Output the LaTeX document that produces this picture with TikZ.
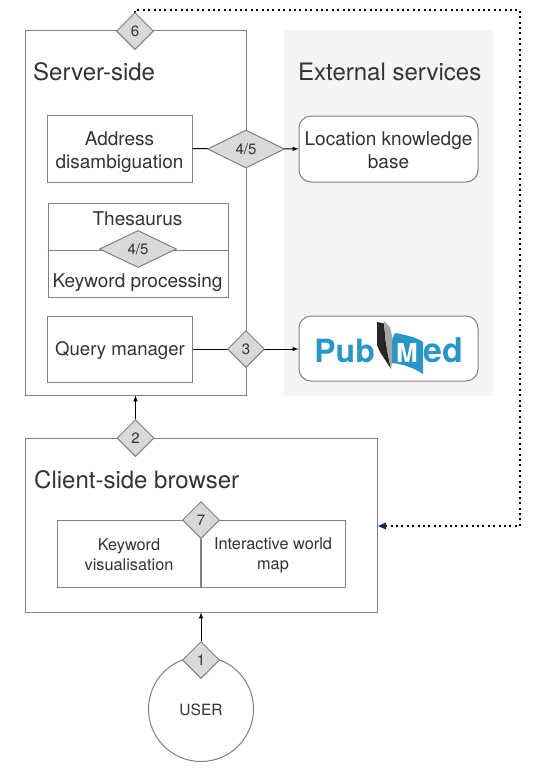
\documentclass[tikz,border=0pt]{standalone}
\usepackage{fontspec}
\setmainfont{TeX Gyre Heros}
\usetikzlibrary{shapes.geometric}
\definecolor{edgegrey}{HTML}{808080}
\definecolor{diamondgrey}{HTML}{D9D9D9}
\definecolor{panelgrey}{HTML}{F3F4F6}
\definecolor{textgrey}{HTML}{333333}
\definecolor{pubblue}{HTML}{2A96C5}
\definecolor{arrownavy}{HTML}{0B2A55}
\tikzset{
  box/.style={draw=edgegrey,line width=1pt,fill=white,text=textgrey,align=center,inner sep=0pt},
  roundbox/.style={box,rounded corners=12pt},
  step diamond/.style={diamond,draw=edgegrey,line width=1pt,fill=diamondgrey,text=textgrey,inner sep=0pt,font=\fontsize{15}{18}\selectfont},
  title/.style={anchor=west,text=textgrey,inner sep=0pt,font=\fontsize{24}{28}\selectfont},
  label/.style={text=textgrey,align=center,inner sep=0pt,font=\fontsize{19}{23}\selectfont},
  small label/.style={text=textgrey,align=center,inner sep=0pt,font=\fontsize{16.3}{20}\selectfont},
  flow/.style={draw=black,line width=1pt,-latex},
}
\begin{document}
\begin{tikzpicture}[x=1pt,y=-1pt]
  \useasboundingbox (0,0) rectangle (537,774);

  \fill[panelgrey] (284,30) rectangle (493,396);

  % outer boxes
  \node[box,minimum width=221pt,minimum height=365pt] (server) at (135.5,212.5) {};
  \node[box,minimum width=352pt,minimum height=174pt] (client) at (201.5,525) {};
  \node[box,circle,minimum size=105pt] (user) at (201,709) {};

  \node[title] (servertitle) at (33,72) {Server-side};
  \node[title] (externaltitle) at (298,72) {External services};
  \node[title] (clienttitle) at (34,480) {Client-side browser};

  % server side
  \node[box,minimum width=145pt,minimum height=67pt] (address) at (119.5,148.5) {};
  \node[label] (addresstext) at (119.5,152) {Address\\disambiguation};
  \node[box,minimum width=180pt,minimum height=94pt] (thesaurus) at (138,250) {};
  \node[box,minimum width=145pt,minimum height=66pt] (query) at (119.5,349) {};
  \node[label,font=\fontsize{18.6}{23}\selectfont] (querytext) at (120,350.5) {Query manager};

  % external services
  \node[roundbox,minimum width=179pt,minimum height=66pt] (location) at (388.5,149) {};
  \node[label] (locationtext) at (388.5,150.5) {Location knowledge\\base};
  \node[roundbox,minimum width=179pt,minimum height=65pt] (pubmed) at (388.5,348.5) {};

  % browser
  \node[box,minimum width=288pt,minimum height=67pt] (views) at (201.5,553.5) {};
  \node[small label] (keyword) at (129,555) {Keyword\\visualisation};
  \node[small label] (worldmap) at (273,555) {Interactive world\\map};

  % connectors
  \path[flow] (address) -- (location);
  \path[flow] (query.east) -- (pubmed.west |- query.east);
  \draw[edgegrey,line width=1pt] (thesaurus.west) -- (thesaurus.east);

  \coordinate (topcorner) at (520,10);
  \coordinate (sidecorner) at (520,526);
  \draw[line width=1.6pt,dash pattern=on 2pt off 3.4pt] (135,13) |- (topcorner) -- (sidecorner) -- (client.east |- sidecorner);
  \fill[arrownavy] (378,526) -- (386,522.5) -- (386,529.5) -- cycle;

  % numbered steps
  \node[step diamond,minimum width=37pt,minimum height=37pt] (six) at (135,31) {6};
  \node[step diamond,minimum width=77pt,minimum height=38pt] (fourfive) at (246,149) {4/5};
  \node[step diamond,minimum width=77pt,minimum height=37pt] (thesaurusstep) at (138,249) {4/5};
  \node[step diamond,minimum width=37pt,minimum height=37pt] (three) at (246,349) {3};
  \node[step diamond,minimum width=37pt,minimum height=37pt] (two) at (135.5,438) {2};
  \node[step diamond,minimum width=37pt,minimum height=37pt] (seven) at (201,520) {7};
  \node[step diamond,minimum width=37pt,minimum height=37pt] (one) at (201,660) {1};

  \draw[edgegrey,line width=1.6pt] (seven.south) -- (seven.south |- views.south);
  \path[flow] (two.north) -- (two.north |- server.south);
  \path[flow] (one.north) -- (one.north |- client.south);

  \node[label] (thesaurustext) at (137.5,218.5) {Thesaurus};
  \node[label] (processing) at (137.5,282.5) {Keyword processing};
  \node[small label,font=\fontsize{15.5}{20}\selectfont] (usertext) at (201,710) {USER};

  % logo
  \fill[black!85] (377,322) -- (384,323.5) -- (385.5,340) -- (388,355) -- (391,369) -- (380,352) -- (377,345) -- cycle;
  \fill[black!35] (384,321) -- (390,327) -- (393,340) -- (392,363) -- (391,369) -- (388,355) -- (385.5,340) -- cycle;
  \fill[pubblue] (392,342) .. controls (393,337) and (394,333) .. (396,333) .. controls (405,335) and (416,337) .. (423,342) -- (423,374) .. controls (414,368) and (403,364) .. (392,363) -- cycle;
  \node[anchor=base east,inner sep=0pt,text=pubblue,font=\fontsize{32}{32}\bfseries\selectfont] (pub) at (375,362) {Pub};
  \node[anchor=base west,inner sep=0pt,text=pubblue,font=\fontsize{34}{34}\bfseries\selectfont] (med) at (423.5,362) {ed};
  \node[anchor=base,inner sep=0pt,text=white,font=\fontsize{26}{26}\bfseries\selectfont] (mletter) at (407,362) {M};
\end{tikzpicture}
\end{document}
